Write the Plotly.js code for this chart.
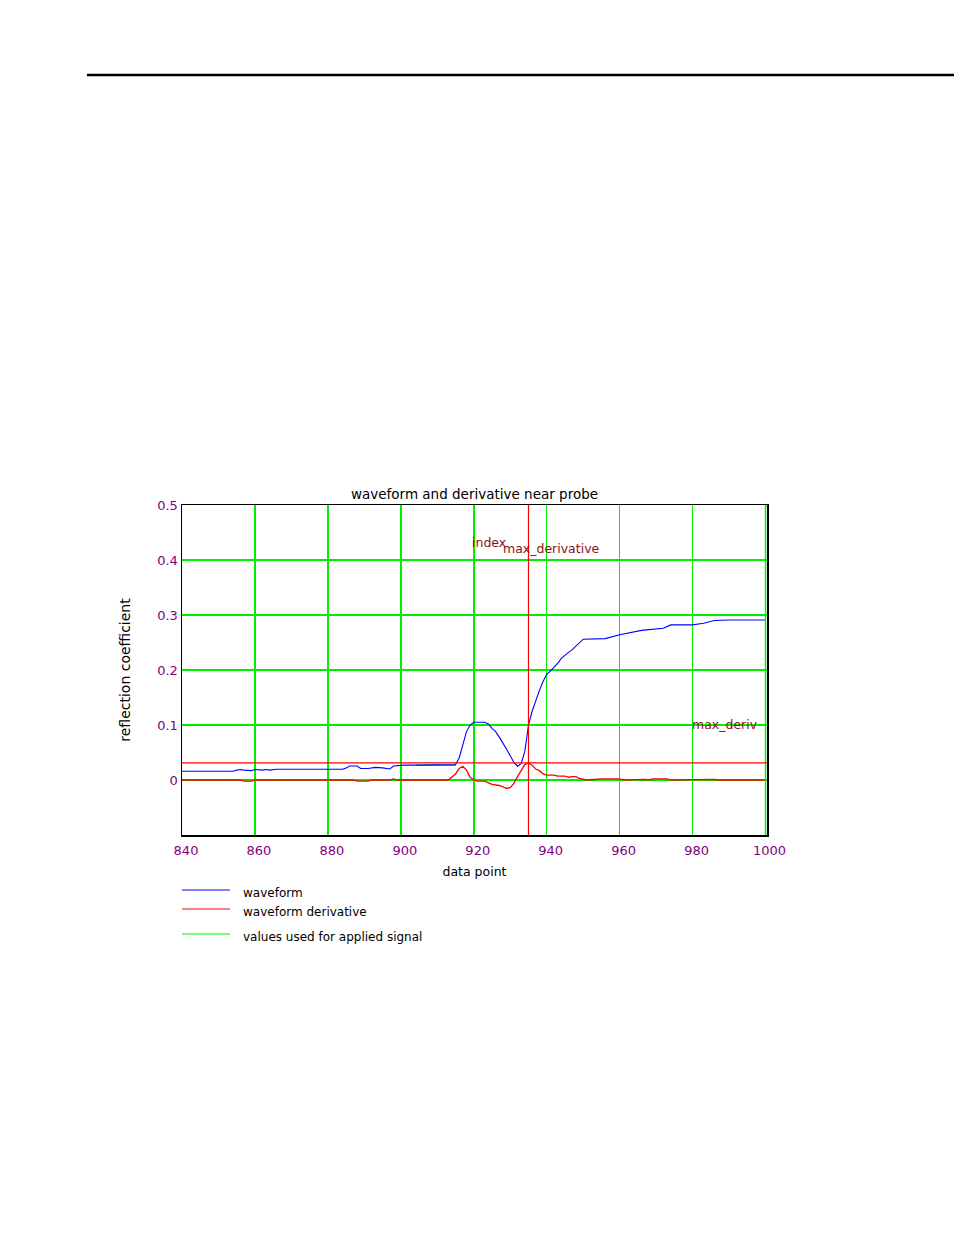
<!DOCTYPE html>
<html>
<head>
<meta charset="utf-8">
<script src="https://cdn.plot.ly/plotly-3.0.1.min.js"></script>
<style>html,body{margin:0;padding:0;background:#fff;}#chart{width:954px;height:1235px;}</style>
</head>
<body>
<div id="chart"></div>
<script>
// ---- data ----
const waveformX = [840, 854, 855, 856, 857, 858, 859, 860, 861, 862, 863, 864, 866, 884, 885, 886, 888, 889, 891, 893, 895, 897, 898, 899, 901, 904, 915,
  916, 917, 918, 919, 920, 923, 924, 925, 926, 927, 928, 929, 930, 931, 932, 933, 934, 935, 936, 937, 938, 939, 940, 941, 942, 943, 944, 945, 946, 947, 948, 949, 950,
  956, 960, 966, 972, 974, 980, 983, 986, 990, 1000];
const waveformY = [0.016, 0.016, 0.018, 0.019, 0.018, 0.018, 0.017, 0.019, 0.018, 0.018, 0.019, 0.018, 0.0195, 0.0195, 0.022, 0.0255, 0.0255, 0.021, 0.021, 0.023, 0.022, 0.020, 0.0255, 0.026, 0.027, 0.027, 0.028,
  0.040, 0.065, 0.088, 0.100, 0.105, 0.105, 0.102, 0.094, 0.088, 0.078, 0.068, 0.056, 0.044, 0.032, 0.025, 0.030, 0.052, 0.100, 0.125, 0.145, 0.163, 0.179, 0.192, 0.198, 0.205, 0.212, 0.221, 0.227, 0.232, 0.237, 0.243, 0.250, 0.256,
  0.257, 0.264, 0.272, 0.276, 0.282, 0.282, 0.285, 0.290, 0.291, 0.291];

const derivX = [840, 856, 857, 859, 860, 887, 888, 891, 892, 897, 898, 899, 913, 914, 915, 916, 917, 918, 919, 920, 921, 923, 925, 927, 929, 930, 931, 932, 933, 934, 935, 936, 937,
  938, 939, 940, 942, 943, 945, 946, 947, 948, 949, 950, 951, 955, 960, 961, 965, 967, 968, 969, 973, 974, 986, 987, 1000];
const derivY = [0, 0, -0.002, -0.002, 0, 0, -0.002, -0.002, 0, 0, 0.002, 0, 0, 0.005, 0.011, 0.021, 0.025, 0.018, 0.005, 0, -0.002, -0.002, -0.008, -0.010, -0.015, -0.014, -0.006, 0.006, 0.017, 0.028, 0.031, 0.027, 0.020,
  0.017, 0.011, 0.009, 0.009, 0.007, 0.007, 0.005, 0.006, 0.006, 0.003, 0.001, 0, 0.002, 0.002, 0, 0.001, 0.001, 0, 0.002, 0.002, 0, 0.001, 0, 0];

const signalX = [904, 915];
const signalY = [0.027, 0.027];

const indexMaxDerivative = 935;
const maxDeriv = 0.031;

const xTicks = [840, 860, 880, 900, 920, 940, 960, 980, 1000];
const yTicks = [0, 0.1, 0.2, 0.3, 0.4, 0.5];
const yTickText = ['0', '0.1', '0.2', '0.3', '0.4', '0.5'];

const legendNames = ['waveform', 'waveform derivative', 'values used for applied signal'];
const seriesColors = ['#0000ff', '#ff0000', '#00ee00'];

// ---- layout helpers (plot area: x 182..767, y 505..835 px) ----
const L = 182, R = 767, T = 505, B = 835, W = 954, H = 1235;
const px = v => (v - L) / (R - L);
const py = v => (B - v) / (B - T);

const FONT = 'DejaVu Sans, sans-serif';
const GRID = '#00ee00';

const traces = [
  {x: signalX, y: signalY, mode: 'lines', line: {color: seriesColors[2], width: 1.5}, name: legendNames[2], showlegend: false},
  {x: derivX, y: derivY, mode: 'lines', line: {color: seriesColors[1], width: 1.3}, name: legendNames[1], showlegend: false},
  {x: waveformX, y: waveformY, mode: 'lines', line: {color: seriesColors[0], width: 1.1}, name: legendNames[0], showlegend: false}
];

const legendRows = [890, 909, 934];
const shapes = [
  // header rule
  {type: 'line', xref: 'paper', yref: 'paper', x0: px(87), x1: px(954), y0: py(75), y1: py(75), line: {color: '#000', width: 2.5}},
  // grid line on the right edge (x = 1000)
  {type: 'line', xref: 'x', yref: 'paper', x0: 1000, x1: 1000, y0: 0, y1: 1, line: {color: GRID, width: 1.5}},
  // index of max derivative
  {type: 'line', xref: 'x', yref: 'paper', x0: indexMaxDerivative, x1: indexMaxDerivative, y0: 0, y1: 1, line: {color: '#ff0000', width: 1.2}},
  // max derivative level
  {type: 'line', xref: 'paper', yref: 'y', x0: 0, x1: 1, y0: maxDeriv, y1: maxDeriv, line: {color: '#ff0000', width: 1.3}}
];
const annotations = [
  {xref: 'x', yref: 'y', x: 919.3, y: 0.431, text: 'index', showarrow: false, xanchor: 'left', yanchor: 'middle', borderpad: 0, font: {family: FONT, size: 12.5, color: '#8b1010'}},
  {xref: 'x', yref: 'y', x: 927.8, y: 0.421, text: 'max_derivative', showarrow: false, xanchor: 'left', yanchor: 'middle', borderpad: 0, font: {family: FONT, size: 12.5, color: '#8b1010'}},
  {xref: 'x', yref: 'y', x: 979.5, y: 0.101, text: 'max_deriv', showarrow: false, xanchor: 'left', yanchor: 'middle', borderpad: 0, font: {family: FONT, size: 12.5, color: '#8b1010'}}
];
legendRows.forEach((r, i) => {
  shapes.push({type: 'line', xref: 'paper', yref: 'paper', x0: px(182), x1: px(230), y0: py(r), y1: py(r), line: {color: seriesColors[i], width: 1}});
  annotations.push({xref: 'paper', yref: 'paper', x: px(242), y: py(r + 3), text: legendNames[i], showarrow: false, xanchor: 'left', yanchor: 'middle', borderpad: 0, font: {family: FONT, size: 12, color: '#000'}});
});

const layout = {
  width: W, height: H,
  margin: {l: L, r: W - R, t: T, b: H - B, pad: 0},
  paper_bgcolor: '#fff', plot_bgcolor: '#fff',
  font: {family: FONT, size: 12, color: '#000'},
  showlegend: false,
  title: {text: 'waveform and derivative near probe', x: 0.5, xref: 'paper', xanchor: 'center', y: (H - 494) / H, yref: 'container', yanchor: 'middle', font: {family: FONT, size: 13.5, color: '#000'}},
  xaxis: {
    range: [840, 1000.4], tickvals: xTicks, ticktext: xTicks.map(String),
    showgrid: true, gridcolor: GRID, gridwidth: 1.5, zeroline: false,
    showline: true, linecolor: '#000', linewidth: 1.5, mirror: true, ticks: '',
    ticklabelstandoff: 3, ticklabelshift: 4,
    tickfont: {family: FONT, size: 13, color: '#800080'},
    title: {text: 'data point', font: {family: FONT, size: 12.5, color: '#000'}, standoff: 10}
  },
  yaxis: {
    range: [-0.1, 0.5], tickvals: yTicks, ticktext: yTickText,
    showgrid: true, gridcolor: GRID, gridwidth: 1.5, zeroline: false,
    showline: true, linecolor: '#000', linewidth: 1.5, mirror: true, ticks: '',
    tickfont: {family: FONT, size: 13, color: '#800080'},
    title: {text: 'reflection coefficient', font: {family: FONT, size: 14, color: '#000'}, standoff: 23}
  },
  shapes: shapes,
  annotations: annotations
};

Plotly.newPlot('chart', traces, layout, {staticPlot: true, displayModeBar: false});
</script>
</body>
</html>
